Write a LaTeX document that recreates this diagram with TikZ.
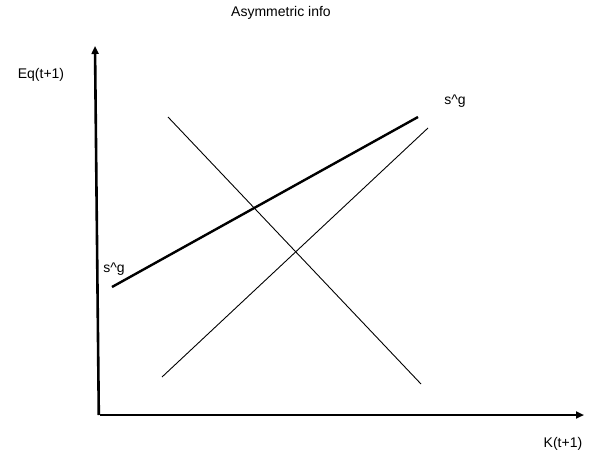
\documentclass[tikz,border=0pt]{standalone}
\usepackage{fontspec}
\setmainfont{Liberation Sans}
\usetikzlibrary{arrows.meta}
\begin{document}
\begin{tikzpicture}[x=1pt,y=-1pt,
  axis/.style={line width=2.6pt,-{Triangle[length=8pt,width=7pt]}},
  thin/.style={line width=0.9pt},
  thick2/.style={line width=2.4pt},
  lbl/.style={font=\fontsize{14}{17}\selectfont,inner sep=0pt}]
\useasboundingbox (0,0) rectangle (589,455);
\coordinate (o) at (100,415);
\coordinate (ytop) at (95,46);
\coordinate (xend) at (584,415);
\draw[axis] ([xshift=-1.2pt]o) -- (ytop);
\draw[axis] (o) -- (xend);
\coordinate (a1) at (112,287);
\coordinate (a2) at (418,117);
\draw[thick2] (a1) -- (a2);
\coordinate (d1) at (168,117);
\coordinate (d2) at (421,384);
\draw[thin] (d1) -- (d2);
\coordinate (s1) at (162,377);
\coordinate (s2) at (428,128);
\draw[thin] (s1) -- (s2);
\node[lbl] (title) at (281,13) {Asymmetric info};
\node[lbl] (eq) at (41,75) {Eq(t+1)};
\node[lbl] (k) at (563,444) {K(t+1)};
\node[lbl] (sg1) at (455,101) {s\^{}g};
\node[lbl] (sg2) at (114,269) {s\^{}g};
\end{tikzpicture}
\end{document}
